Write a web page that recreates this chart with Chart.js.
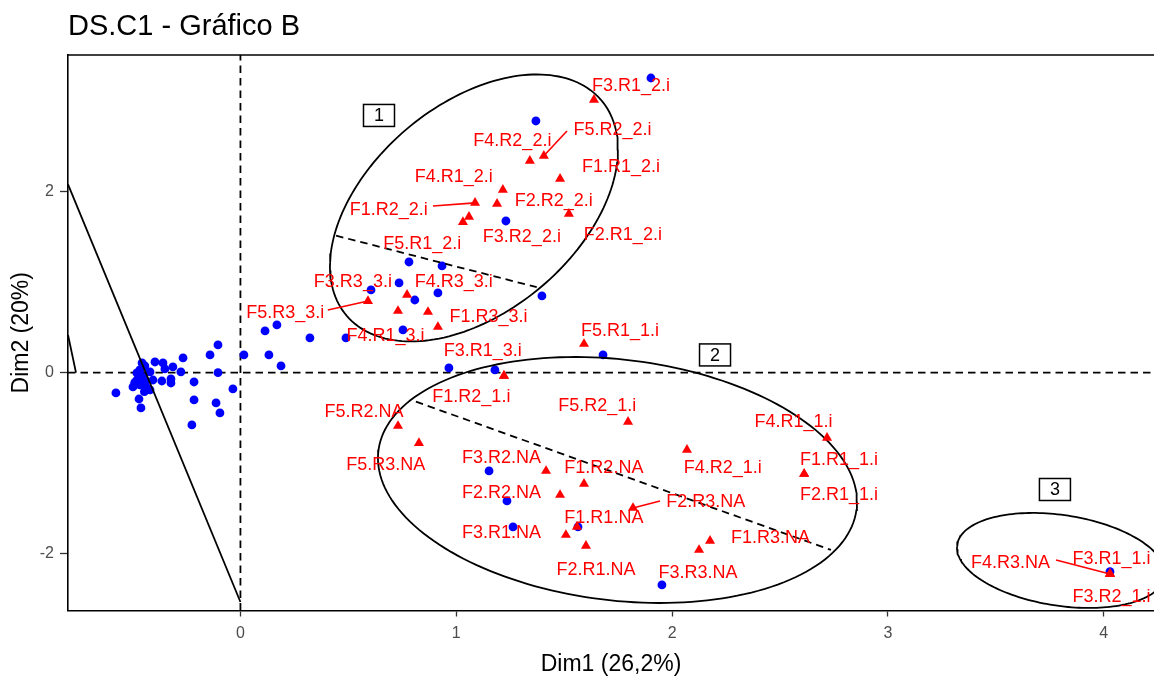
<!DOCTYPE html>
<html><head><meta charset="utf-8">
<script src="https://cdn.jsdelivr.net/npm/chart.js@4.4.0/dist/chart.umd.min.js"></script>
<style>html,body{margin:0;padding:0;background:#fff;overflow:hidden}</style>
</head><body>
<canvas id="c" width="1154" height="677"></canvas>
<script>
// ---- axis ranges and ticks ----
const xRange = [-0.799, 4.233];
const yRange = [-2.628, 3.510];
const xTicks = [0, 1, 2, 3, 4];
const yTicks = [-2, 0, 2];

// ---- individuals (blue) ----
const indX = [1.902,1.369,1.230,0.781,0.934,0.735,0.605,0.808,0.915,1.397,0.753,0.489,0.322,0.169,0.114,0.016,0.132,0.188,0.966,1.179,1.680,-0.035,
  -0.577,-0.470,-0.461,-0.141,-0.104,-0.104,-0.215,-0.215,-0.113,-0.095,-0.225,-0.266,-0.276,-0.313,-0.322,-0.322,-0.350,-0.364,-0.359,-0.396,-0.419,-0.456,-0.480,-0.480,-0.452,-0.498,-0.466,-0.433,-0.419,-0.405,-0.443,-0.466,-0.438,-0.490,-0.445,
  1.152,1.235,1.263,1.564,1.953,4.029];
const indY = [3.256,2.781,1.676,1.223,1.179,0.991,0.914,0.803,0.881,0.848,0.472,0.384,0.384,0.527,0.461,0.196,0.196,0.074,0.052,0.030,0.196,-0.180,
  -0.224,-0.291,-0.390,0.196,0.307,0.000,-0.103,-0.301,-0.334,-0.445,-0.577,0.163,0.008,0.063,-0.069,-0.114,0.041,-0.092,0.107,0.118,0.008,0.107,-0.003,-0.081,-0.048,-0.158,-0.136,-0.169,-0.191,-0.081,0.074,0.030,-0.092,-0.110,-0.210,
  -1.086,-1.417,-1.704,-1.704,-2.345,-2.199];

// ---- supplementary categories (red triangles) ----
const catNames = ['F3.R1_2.i','F5.R2_2.i','F4.R2_2.i','F1.R1_2.i','F4.R1_2.i','F1.R2_2.i','F2.R2_2.i','F2.R1_2.i','F3.R2_2.i','F5.R1_2.i',
  'F4.R3_3.i','F3.R3_3.i','F5.R3_3.i','F1.R3_3.i','F4.R1_3.i','F3.R1_3.i','F1.R2_1.i','F5.R1_1.i',
  'F5.R2.NA','F5.R3.NA','F3.R2.NA','F1.R2.NA','F2.R2.NA','F2.R3.NA','F1.R1.NA','F3.R1.NA','F2.R1.NA',
  'F5.R2_1.i','F4.R2_1.i','F4.R1_1.i','F1.R1_1.i','F2.R1_1.i','F1.R3.NA','F3.R3.NA',
  'F4.R3.NA','F3.R1_1.i','F3.R2_1.i'];
const catX = [1.638,1.406,1.341,1.481,1.216,1.087,1.189,1.522,1.059,1.031,
  0.772,0.730,0.591,0.915,0.869,1.221,1.221,1.592,
  0.730,0.827,1.416,1.592,1.481,1.819,1.559,1.508,1.601,
  1.796,2.069,2.718,2.612,2.612,2.176,2.125,
  4.029,4.029,4.029];
const catY = [3.014,2.396,2.340,2.141,2.020,1.876,1.865,1.754,1.721,1.665,
  0.859,0.682,0.792,0.505,0.671,-0.036,-0.036,0.317,
  -0.589,-0.777,-1.086,-1.229,-1.351,-1.495,-1.704,-1.793,-1.914,
  -0.544,-0.853,-0.721,-1.119,-1.119,-1.859,-1.959,
  -2.224,-2.224,-2.224];
// repelled label anchor positions (data units)
const labelX = [1.810,1.724,1.260,1.763,0.988,0.687,1.452,1.772,1.304,0.842,
  0.988,0.521,0.208,1.149,0.672,1.123,1.070,1.759,
  0.573,0.673,1.210,1.684,1.210,2.156,1.684,1.210,1.648,
  1.653,2.235,2.563,2.773,2.773,2.456,2.120,
  3.568,4.036,4.036];
const labelY = [3.171,2.676,2.564,2.276,2.166,1.798,1.897,1.522,1.496,1.417,
  1.006,1.006,0.656,0.619,0.409,0.243,-0.265,0.461,
  -0.431,-1.020,-0.939,-1.056,-1.326,-1.432,-1.602,-1.775,-2.180,
  -0.368,-1.056,-0.541,-0.965,-1.351,-1.823,-2.217,
  -2.106,-2.062,-2.475];
// leader segments: category index and start point
const leaderIdx = [1, 5, 12, 23, 34];
const leaderX = [1.513, 0.892, 0.405, 1.944, 3.779];
const leaderY = [2.671, 1.842, 0.693, -1.418, -2.070];

// ---- clusters ----
const clusterNames = ['1', '2', '3'];
const clusterBoxX = [0.642, 2.199, 3.774];
const clusterBoxY = [2.842, 0.196, -1.291];
const ellCX = [1.082, 1.747, 3.802];
const ellCY = [1.820, -1.186, -2.075];
const ellSxx = [0.4453, 1.2317, 0.2323];
const ellSyy = [2.176, 1.847, 0.2755];
const ellSxy = [0.4306, -0.2677, -0.0681];
// dashed axes inside ellipses
const axisSegX = [[0.443, 1.373], [0.813, 2.736]];
const axisSegY = [[1.514, 0.944], [-0.320, -1.959]];
// solid boundary lines
const solidX = [[-0.799, 0.0], [-0.799, -0.762]];
const solidY = [[2.081, -2.534], [0.417, 0.0]];

// ---- build datasets ----
function ellipsePts(i) {
  const l11 = Math.sqrt(ellSxx[i]);
  const l21 = ellSxy[i] / l11;
  const l22 = Math.sqrt(ellSyy[i] - l21 * l21);
  const pts = [];
  for (let k = 0; k <= 180; k++) {
    const t = 2 * Math.PI * k / 180;
    const c = Math.cos(t), s = Math.sin(t);
    pts.push({x: ellCX[i] + l11 * c, y: ellCY[i] + l21 * c + l22 * s});
  }
  return pts;
}
const datasets = [];
const dash = [7.5, 5];
datasets.push({data: [{x: 0, y: yRange[0]}, {x: 0, y: yRange[1]}], showLine: true, pointRadius: 0, borderColor: '#000', borderWidth: 1.8, borderDash: dash, order: 10});
datasets.push({data: [{x: xRange[0], y: 0}, {x: xRange[1], y: 0}], showLine: true, pointRadius: 0, borderColor: '#000', borderWidth: 1.8, borderDash: dash, order: 10});
datasets.push({data: indX.map((v, i) => ({x: v, y: indY[i]})), pointRadius: 4.4, pointStyle: 'circle', backgroundColor: '#0000FF', borderWidth: 0, order: 9});
solidX.forEach((sx, i) => datasets.push({data: sx.map((v, k) => ({x: v, y: solidY[i][k]})), showLine: true, pointRadius: 0, borderColor: '#000', borderWidth: 1.8, order: 8}));
axisSegX.forEach((sx, i) => datasets.push({data: sx.map((v, k) => ({x: v, y: axisSegY[i][k]})), showLine: true, pointRadius: 0, borderColor: '#000', borderWidth: 1.8, borderDash: dash, order: 8}));
ellCX.forEach((_, i) => datasets.push({data: ellipsePts(i), showLine: true, pointRadius: 0, borderColor: '#000', borderWidth: 1.8, order: 7}));
leaderIdx.forEach((ci, i) => datasets.push({data: [{x: leaderX[i], y: leaderY[i]}, {x: catX[ci], y: catY[ci]}], showLine: true, pointRadius: 0, borderColor: '#FF0000', borderWidth: 1.6, order: 6}));
datasets.push({data: catX.map((v, i) => ({x: v, y: catY[i]})), pointRadius: 5.8, pointStyle: 'triangle', backgroundColor: '#FF0000', borderWidth: 0, order: 5});

const FONT = '"Liberation Sans", Arial, Helvetica, sans-serif';
Chart.defaults.font.family = FONT;

const annot = {
  id: 'annot',
  afterDatasetsDraw(chart) {
    const {ctx, chartArea: a, scales: {x, y}} = chart;
    ctx.save();
    ctx.beginPath(); ctx.rect(a.left, a.top, a.right - a.left, a.bottom - a.top); ctx.clip();
    ctx.font = '18px ' + FONT;
    ctx.fillStyle = '#FF0000';
    ctx.textAlign = 'center';
    ctx.textBaseline = 'middle';
    catNames.forEach((n, i) => ctx.fillText(n, x.getPixelForValue(labelX[i]), y.getPixelForValue(labelY[i])));
    ctx.font = '18px ' + FONT;
    clusterNames.forEach((n, i) => {
      const px = x.getPixelForValue(clusterBoxX[i]), py = y.getPixelForValue(clusterBoxY[i]);
      ctx.fillStyle = '#fff';
      ctx.fillRect(px - 15.5, py - 11, 31, 22);
      ctx.strokeStyle = '#000'; ctx.lineWidth = 1.5;
      ctx.strokeRect(px - 15.5, py - 11, 31, 22);
      ctx.fillStyle = '#000';
      ctx.fillText(n, px, py + 1);
    });
    ctx.restore();
    ctx.save();
    ctx.strokeStyle = '#000'; ctx.lineWidth = 1.5;
    ctx.beginPath(); ctx.moveTo(a.left, a.top); ctx.lineTo(a.right, a.top); ctx.stroke();
    ctx.restore();
  }
};

new Chart(document.getElementById('c'), {
  type: 'scatter',
  data: {datasets},
  plugins: [annot],
  options: {
    responsive: false, devicePixelRatio: 1, animation: false,
    layout: {autoPadding: false, padding: {left: 0, right: 0, top: 0, bottom: 0}},
    plugins: {
      legend: {display: false}, tooltip: {enabled: false},
      title: {display: true, text: 'DS.C1 - Gráfico B', align: 'start', fullSize: false, color: '#000',
        font: {size: 29, weight: 'normal', family: FONT}, padding: {top: 10, bottom: 10.2}}
    },
    scales: {
      x: {type: 'linear', min: xRange[0], max: xRange[1],
        afterBuildTicks: s => { s.ticks = xTicks.map(v => ({value: v})); },
        afterFit: s => { s.height = 66.5; s.paddingRight = 0; s.paddingLeft = 0; },
        ticks: {color: '#4D4D4D', font: {size: 16}, padding: 7, callback: v => String(v)},
        grid: {display: true, drawOnChartArea: false, drawTicks: true, tickLength: 6, tickColor: '#333', tickWidth: 1.3},
        border: {display: true, color: '#000', width: 1.6},
        title: {display: true, text: 'Dim1 (26,2%)', color: '#000', font: {size: 23, lineHeight: 1}, padding: {top: 0, bottom: 0.5}}
      },
      y: {type: 'linear', min: yRange[0], max: yRange[1],
        afterBuildTicks: s => { s.ticks = yTicks.map(v => ({value: v})); },
        afterFit: s => { s.width = 68; s.paddingTop = 0; s.paddingBottom = 0; },
        ticks: {color: '#4D4D4D', font: {size: 16}, padding: 6, callback: v => String(v)},
        grid: {display: true, drawOnChartArea: false, drawTicks: true, tickLength: 8, tickColor: '#333', tickWidth: 1.3},
        border: {display: true, color: '#000', width: 1.6},
        title: {display: true, text: 'Dim2 (20%)', color: '#000', font: {size: 23, lineHeight: 1.2}, padding: {top: 8, bottom: 0}}
      }
    }
  }
});
</script>
</body></html>
